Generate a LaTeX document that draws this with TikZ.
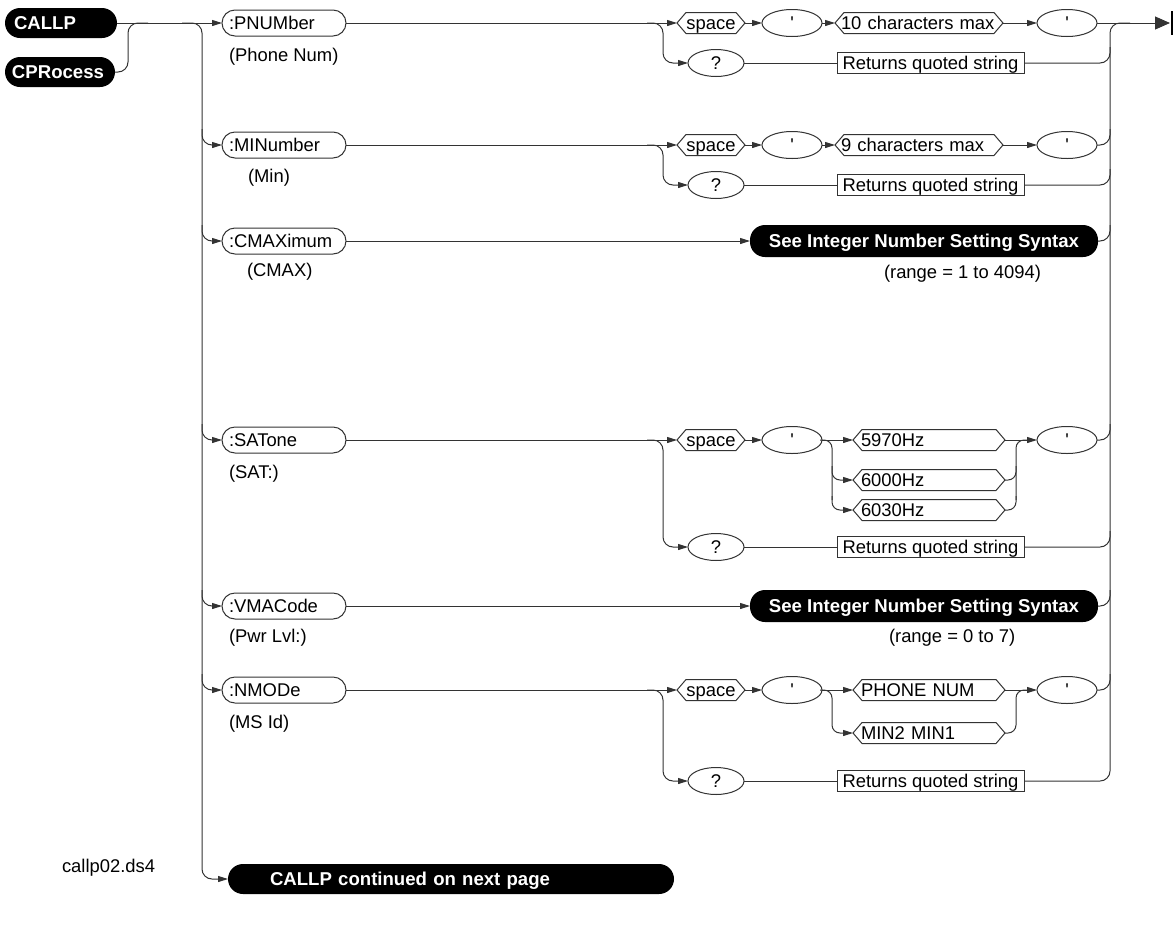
\documentclass[tikz,border=0pt]{standalone}
\usepackage{fontspec}
\setmainfont{Liberation Sans}
\usetikzlibrary{arrows.meta,shapes.geometric,calc}
\begin{document}
\begin{tikzpicture}[x=1pt,y=-1pt,
  every node/.style={font=\fontsize{18.4}{22}\selectfont, inner sep=0pt, outer sep=0pt, text height=13.3pt, text depth=0pt},
  ln/.style={line width=1pt, draw=black!80},
  arr/.style={ln, -{Triangle[length=10pt,width=6pt]}},
  kw/.style={draw=black!80, line width=1pt, rectangle, rounded corners=13pt, minimum height=26pt, text width=110pt, inner xsep=7pt, align=left},
  pill/.style={fill=black, text=white, font=\fontsize{18.6}{22}\selectfont\bfseries, rounded corners=15pt, minimum height=30pt},
  oval/.style={draw=black!80, line width=1pt, ellipse, minimum width=60pt, minimum height=27pt},
  qoval/.style={oval, minimum width=56pt},
  hexn/.style={rectangle, minimum height=21pt, inner xsep=8pt, align=left},
  retbox/.style={draw=black!80, line width=1pt, rectangle, minimum width=187pt, minimum height=21pt},
  lbl/.style={anchor=west},
]
\useasboundingbox (0,0) rectangle (1176,930);

% ---- start pills
\node[pill, text width=94pt, inner xsep=9pt, align=left] (callp) at (61,23) {CALLP};
\node[pill, text width=96pt, inner xsep=7pt, align=left] (cproc) at (60,72) {CPRocess};

% ---- keyword column
\node[kw] (k1) at (284,23) {:PNUMber};
\node[lbl] (l1) at (229,55) {(Phone Num)};
\node[kw] (k2) at (284,145) {:MINumber};
\node[lbl] (l2) at (248,176) {(Min)};
\node[kw] (k3) at (284,241) {:CMAXimum};
\node[lbl] (l3) at (247,270) {(CMAX)};
\node[kw] (k4) at (284,440) {:SATone};
\node[lbl] (l4) at (229,472) {(SAT:)};
\node[kw] (k5) at (284,606) {:VMACode};
\node[lbl] (l5) at (229,636) {(Pwr Lvl:)};
\node[kw] (k6) at (284,690) {:NMODe};
\node[lbl] (l6) at (229,722) {(MS Id)};

% ---- row 1
\node[hexn, text width=52pt, align=center] (s1) at (711,23) {space};
\node[oval] (a1) at (792,23) {\textquotesingle};
\node[hexn, text width=156pt, inner xsep=6pt] (h1) at (919,23) {\mbox{10 characters max}};
\node[oval] (b1) at (1067,23) {\textquotesingle};
\node[qoval] (q1) at (716,63) {?};
\node[retbox] (r1) at (930.5,63) {Returns quoted string};

% ---- row 2
\node[hexn, text width=52pt, align=center] (s2) at (711,145) {space};
\node[oval] (a2) at (792,145) {\textquotesingle};
\node[hexn, text width=156pt, inner xsep=6pt] (h2) at (919,145) {\mbox{9 characters max}};
\node[oval] (b2) at (1067,145) {\textquotesingle};
\node[qoval] (q2) at (716,185) {?};
\node[retbox] (r2) at (930.5,185) {Returns quoted string};

% ---- row 3
\node[pill, minimum width=348pt, minimum height=32pt] (see1) at (924,241) {See Integer Number Setting Syntax};
\node[lbl] (rg1) at (884,272) {(range = 1 to 4094)};

% ---- row 4
\node[hexn, text width=52pt, align=center] (s4) at (711,440) {space};
\node[oval] (a4) at (792,440) {\textquotesingle};
\node[hexn, text width=136pt] (hz1) at (929,440) {5970Hz};
\node[hexn, text width=136pt] (hz2) at (929,480) {6000Hz};
\node[hexn, text width=136pt] (hz3) at (929,510) {6030Hz};
\node[oval] (b4) at (1067,440) {\textquotesingle};
\node[qoval] (q4) at (716,547) {?};
\node[retbox] (r4) at (930.5,547) {Returns quoted string};

% ---- row 5
\node[pill, minimum width=348pt, minimum height=32pt] (see2) at (924,606) {See Integer Number Setting Syntax};
\node[lbl] (rg2) at (889,636) {(range = 0 to 7)};

% ---- row 6
\node[hexn, text width=52pt, align=center] (s6) at (711,690) {space};
\node[oval] (a6) at (792,690) {\textquotesingle};
\node[hexn, text width=136pt] (o61) at (929,690) {PHONE NUM};
\node[hexn, text width=136pt] (o62) at (929,733) {MIN2 MIN1};
\node[oval] (b6) at (1067,690) {\textquotesingle};
\node[qoval] (q6) at (716,781) {?};
\node[retbox] (r6) at (930.5,781) {Returns quoted string};

% ---- bottom
\node[pill, text width=362pt, inner xsep=42pt, align=left] (bot) at (451,879) {CALLP continued on next page};
\node[lbl] (fn) at (62,866) {callp02.ds4};

% ---- hexagon outlines
\foreach \n in {s1,h1,s2,h2,s4,hz1,hz2,hz3,s6,o61,o62}
  \draw[ln] (\n.west) -- ([xshift=9pt]\n.north west) -- ([xshift=-9pt]\n.north east)
    -- (\n.east) -- ([xshift=-9pt]\n.south east) -- ([xshift=9pt]\n.south west) -- cycle;

% ---- helper coordinates
\coordinate (cj) at (128,0);
\coordinate (tl) at (202,0);
\coordinate (tr) at (1110,0);
\coordinate (sq) at (663,0);
\coordinate (so) at (832,0);
\coordinate (sj) at (1016,0);
\coordinate (endc) at (1170,23);
\coordinate (barT) at (1172,11);
\coordinate (barB) at (1172,35);

% ---- left side
\draw[arr] (callp.east) -- (k1.west);
\draw[ln, rounded corners=10] (cproc.east) -- (cproc.east -| cj) -- (callp.east -| cj) -- ($(callp.east -| cj)+(20,0)$);
\draw[arr, rounded corners=10] ($(callp.east -| tl)+(-20,0)$) -- (callp.east -| tl) -- (bot.west -| tl) -- (bot.west);
\foreach \k in {k2,k3,k4,k5,k6}
  \draw[arr, rounded corners=10] ($(\k.west -| tl)+(0,-16)$) -- (\k.west -| tl) -- (\k.west);

% ---- rows with space / ?
\foreach \r/\h in {1/h1,2/h2,4/hz1,6/o61}{
  \draw[arr] (k\r.east) -- (s\r.west);
  \draw[arr, rounded corners=10] ($(s\r.west -| sq)+(-16,0)$) -- (s\r.west -| sq) -- (q\r.west -| sq) -- (q\r.west);
  \draw[arr] (s\r.east) -- (a\r.west);
  \draw[arr] (a\r.east) -- (\h.west);
  \draw[arr] (\h.east) -- (b\r.west);
  \draw[ln] (q\r.east) -- (r\r.west);
}
\draw[arr] (k3.east) -- (see1.west);
\draw[arr] (k5.east) -- (see2.west);

% ---- option branches
\foreach \o in {hz2,hz3}{
  \draw[arr, rounded corners=8] ($(\o.west -| so)+(0,-14)$) -- (\o.west -| so) -- (\o.west);
  \draw[ln, rounded corners=8] (\o.east) -- (\o.east -| sj) -- ($(\o.east -| sj)+(0,-14)$);
}
\draw[ln, rounded corners=8] ($(a4.east -| so)+(-12,0)$) -- (a4.east -| so) -- ($(hz3.west -| so)+(0,-10)$);
\draw[ln, rounded corners=8] ($(hz3.east -| sj)+(0,-10)$) -- (hz1.east -| sj) -- ($(hz1.east -| sj)+(12,0)$);
\draw[arr, rounded corners=8] ($(a6.east -| so)+(-12,0)$) -- (a6.east -| so) -- (o62.west -| so) -- (o62.west);
\draw[ln, rounded corners=8] (o62.east) -- (o62.east -| sj) -- (o61.east -| sj) -- ($(o61.east -| sj)+(12,0)$);

% ---- right side
\draw[ln, -{Triangle[length=15pt,width=13pt]}] (b1.east) -- (endc);
\draw[line width=2pt, black] (barT) -- (barB);
\draw[ln, rounded corners=10] (r6.east) -- (r6.east -| tr) -- (b1.east -| tr) -- ($(b1.east -| tr)+(20,0)$);
\foreach \j in {r1,b2,r2,see1,b4,r4,see2,b6}
  \draw[ln, rounded corners=10] (\j.east) -- (\j.east -| tr) -- ($(\j.east -| tr)+(0,-16)$);
\end{tikzpicture}
\end{document}
